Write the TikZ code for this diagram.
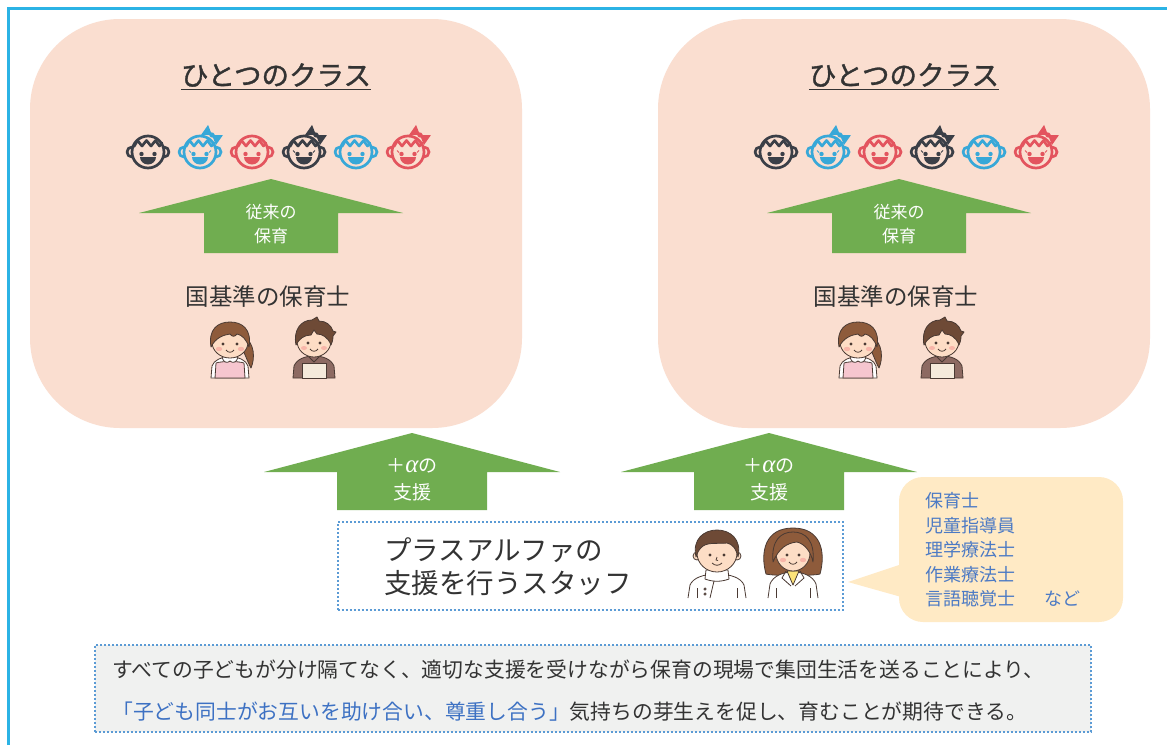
\documentclass[tikz,border=0pt]{standalone}
\usepackage{fontspec}
\setmainfont{Noto Sans CJK JP}
\newfontfamily\titlefont{Noto Sans CJK JP}[FakeBold=1.2]
\newfontfamily\alphafont{Liberation Serif}

\definecolor{framecol}{HTML}{2BB3E5}
\definecolor{classbg}{HTML}{FADED0}
\definecolor{arrowcol}{HTML}{70AD50}
\definecolor{dotcol}{HTML}{5B9BD5}
\definecolor{bubblecol}{HTML}{FFEAC5}
\definecolor{bubbletxt}{HTML}{4C7AC4}
\definecolor{txtdark}{HTML}{333333}
\definecolor{emphblue}{HTML}{3D71C3}
\definecolor{notebg}{HTML}{F0F1F0}
\definecolor{kiddark}{HTML}{3B3F47}
\definecolor{kidblue}{HTML}{38A8D8}
\definecolor{kidred}{HTML}{E3545E}
\definecolor{skin}{HTML}{FDDDC5}
\definecolor{hairA}{HTML}{8E5B3B}
\definecolor{hairB}{HTML}{6E4A36}
\definecolor{outline}{HTML}{4A3A33}
\definecolor{cheek}{HTML}{F7A9A0}
\definecolor{apronpink}{HTML}{F6C6CF}
\definecolor{shirtbrown}{HTML}{8D6A62}
\definecolor{apronbeige}{HTML}{F5EADB}
\definecolor{shirtyellow}{HTML}{FCE37A}

\newcommand{\setfs}[2]{\fontsize{#1}{#2}\selectfont}
\newcommand{\plusalpha}{＋{\alphafont\itshape\fontsize{25}{25}\selectfont α}の}

\tikzset{
  txt/.style={inner sep=0pt, text=txtdark},
  classbox/.style={fill=classbg, rounded corners=90pt, minimum width=492pt, minimum height=409pt, inner sep=0pt},
  dotbox/.style={draw=dotcol, line width=2pt, dash pattern=on 2pt off 2pt, inner sep=0pt},
  titletxt/.style={txt, font=\titlefont\setfs{27.5}{30}},
  teachtxt/.style={txt, font=\setfs{23.5}{26}},
  arrowtxt/.style={inner sep=0pt, text=white, align=center},
  kidline/.style={line width=2.7pt, line cap=round, line join=round},
  figline/.style={line width=0.8pt, draw=outline, line join=round},
  % child icon, boy
  boyface/.pic={
    \begin{scope}[kidline, draw=#1, fill=#1]
      \draw (0,0) circle[radius=16];
      \draw (-16,-5) arc[start angle=270, end angle=90, radius=5];
      \draw (16,-5) arc[start angle=-90, end angle=90, radius=5];
      \draw (-14,-5.5) -- (-10.5,-11.5) -- (-6,-6) -- (-1.5,-11.5) -- (3,-6) -- (7.5,-11.5) -- (11.5,-6) -- (14,-9);
      \fill (-6.5,2) circle[radius=2.2];
      \fill (6.5,2) circle[radius=2.2];
      \fill (-8,5) arc[start angle=180, end angle=0, x radius=8, y radius=7.5] -- cycle;
    \end{scope}
  },
  % child icon, girl with a bow
  girlface/.pic={
    \pic {boyface=#1};
    \begin{scope}[shift={(12,-17)}, rotate=-35]
      \fill[#1] (0,0) -- (-9,-6) -- (-9,6) -- cycle;
      \fill[#1] (0,0) -- (9,-6) -- (9,6) -- cycle;
      \fill[#1] (0,0) circle[radius=2.6];
    \end{scope}
    \draw[#1, line width=1pt] (-9,0.5) -- (-11,-1.5);
    \draw[#1, line width=1pt] (9,0.5) -- (11,-1.5);
  },
  % nursery teacher, woman
  teacherF/.pic={
    \begin{scope}[figline]
      \filldraw[fill=hairA] (14,-4) .. controls (25,2) and (25,18) .. (21,27) .. controls (17,20) and (15,12) .. (11,6) -- cycle;
      \filldraw[fill=white] (-19,37) -- (-18,25) .. controls (-16,19) and (-9,16) .. (0,16) .. controls (9,16) and (16,19) .. (18,25) -- (19,37) -- cycle;
      \filldraw[fill=apronpink] (-15,37) -- (-14,22) .. controls (-8,20) and (8,20) .. (14,22) -- (15,37) -- cycle;
      \filldraw[fill=white] (-8,16) .. controls (-7,21) and (-3,23) .. (0,20) .. controls (3,23) and (7,21) .. (8,16) -- cycle;
      \filldraw[fill=skin] (0,1) ellipse[x radius=18, y radius=16];
      \filldraw[fill=hairA] (-19,6) .. controls (-22,-12) and (-12,-19) .. (0,-19) .. controls (12,-19) and (22,-12) .. (19,6) .. controls (16,-2) and (12,-6) .. (7,-7) .. controls (5,-4) and (2,-4) .. (0,-7) .. controls (-6,-6) and (-14,-4) .. (-19,6) -- cycle;
      \fill[cheek, opacity=.75] (-11,8) ellipse[x radius=3.2, y radius=2.2];
      \fill[cheek, opacity=.75] (11,8) ellipse[x radius=3.2, y radius=2.2];
      \fill[outline] (-7,3) circle[radius=1.7];
      \fill[outline] (7,3) circle[radius=1.7];
      \draw (-4,9) .. controls (-2,12) and (2,12) .. (4,9);
    \end{scope}
  },
  % nursery teacher, man
  teacherM/.pic={
    \begin{scope}[figline]
      \filldraw[fill=shirtbrown] (-21,38) -- (-20,26) .. controls (-17,19) and (-9,16) .. (0,16) .. controls (9,16) and (17,19) .. (20,26) -- (21,38) -- cycle;
      \filldraw[fill=apronbeige] (-12,38) -- (-12,23) -- (12,23) -- (12,38) -- cycle;
      \draw (-6,16) -- (0,22) -- (6,16);
      \filldraw[fill=skin] (0,1) ellipse[x radius=17, y radius=16];
      \filldraw[fill=hairB] (-18,5) .. controls (-21,-10) and (-13,-20) .. (-2,-20) -- (3,-23) -- (5,-19) .. controls (12,-19) and (17,-15) .. (19,-9) -- (22,-8) -- (19,-4) .. controls (19,0) and (18,3) .. (17,5) .. controls (14,-3) and (8,-6) .. (3,-6) -- (0,-10) -- (-3,-5) .. controls (-10,-5) and (-15,-1) .. (-18,5) -- cycle;
      \fill[cheek, opacity=.75] (-10,8) ellipse[x radius=3, y radius=2];
      \fill[cheek, opacity=.75] (10,8) ellipse[x radius=3, y radius=2];
      \fill[outline] (-6,3) circle[radius=1.6];
      \fill[outline] (6,3) circle[radius=1.6];
      \draw (-4,9) .. controls (-2,12) and (2,12) .. (4,9);
    \end{scope}
  },
  % support staff, man in white coat
  staffM/.pic={
    \begin{scope}[figline]
      \fill[white] (-29,45) -- (-27,32) .. controls (-24,25) and (-14,21) .. (0,21) .. controls (14,21) and (24,25) .. (27,32) -- (29,45) -- cycle;
      \draw (-29,45) -- (-27,32) .. controls (-24,25) and (-14,21) .. (0,21) .. controls (14,21) and (24,25) .. (27,32) -- (29,45);
      \draw (-20,45) -- (-20,35);
      \draw (20,45) -- (20,35);
      \filldraw[fill=white] (-11,17) -- (-12,26) .. controls (-4,29) and (4,29) .. (12,26) -- (11,17) -- cycle;
      \draw (-3,28) -- (-7,45);
      \draw (-12,36) circle[radius=1.2];
      \draw (-12,41) circle[radius=1.2];
      \filldraw[fill=skin] (-20,3) circle[radius=4];
      \filldraw[fill=skin] (20,3) circle[radius=4];
      \filldraw[fill=skin] (0,0) ellipse[x radius=20, y radius=19];
      \filldraw[fill=hairB] (-21,4) .. controls (-25,-14) and (-13,-23) .. (0,-23) .. controls (13,-23) and (25,-14) .. (21,4) .. controls (19,-5) and (15,-9) .. (10,-10) .. controls (2,-9) and (-8,-11) .. (-14,-7) .. controls (-18,-4) and (-20,0) .. (-21,4) -- cycle;
      \fill[outline] (-7,2) circle[radius=1.7];
      \fill[outline] (7,2) circle[radius=1.7];
      \draw (0,4) -- (-1,7) -- (1,7.5);
      \draw (-5,10) .. controls (-2,13) and (2,13) .. (5,10);
    \end{scope}
  },
  % support staff, woman in white coat
  staffF/.pic={
    \begin{scope}[figline]
      \filldraw[fill=hairA] (-27,22) .. controls (-33,0) and (-28,-24) .. (0,-24) .. controls (28,-24) and (33,0) .. (27,22) .. controls (20,24) and (-20,24) .. (-27,22) -- cycle;
      \fill[white] (-25,46) -- (-23,32) .. controls (-20,24) and (-10,20) .. (0,20) .. controls (10,20) and (20,24) .. (23,32) -- (25,46) -- cycle;
      \draw (-25,46) -- (-23,32) .. controls (-20,24) and (-10,20) .. (0,20) .. controls (10,20) and (20,24) .. (23,32) -- (25,46);
      \filldraw[fill=shirtyellow] (-6,19) -- (0,33) -- (6,19) -- cycle;
      \draw (-7,19) -- (-11,26) -- (-2,34);
      \draw (7,19) -- (11,26) -- (2,34);
      \draw (-17,46) -- (-17,36);
      \draw (17,46) -- (17,36);
      \filldraw[fill=skin] (0,1) ellipse[x radius=17, y radius=18];
      \filldraw[fill=hairA] (-20,10) .. controls (-22,-12) and (-12,-20) .. (0,-20) .. controls (12,-20) and (22,-12) .. (20,10) .. controls (18,0) and (12,-8) .. (4,-10) .. controls (-6,-9) and (-14,-4) .. (-20,10) -- cycle;
      \fill[cheek, opacity=.75] (-10,8) ellipse[x radius=3.2, y radius=2.2];
      \fill[cheek, opacity=.75] (10,8) ellipse[x radius=3.2, y radius=2.2];
      \fill[outline] (-6,3) circle[radius=1.6];
      \fill[outline] (6,3) circle[radius=1.6];
      \draw (-4,10) .. controls (-2,13) and (2,13) .. (4,10);
    \end{scope}
  },
  % broad green arrows
  careArrow/.pic={
    \fill[arrowcol] (0,0) -- (132,34) -- (67,34) -- (67,74) -- (-67,74) -- (-67,34) -- (-132,34) -- cycle;
  },
  plusArrow/.pic={
    \fill[arrowcol] (0,0) -- (148,39) -- (75,39) -- (75,77) -- (-75,77) -- (-75,39) -- (-148,39) -- cycle;
  },
}

\begin{document}
\begin{tikzpicture}[x=1pt, y=-1pt]
\useasboundingbox (0,0) rectangle (1167,745);
\fill[white] (0,0) rectangle (1167,745);

% outer frame (top and left edges)
\draw[framecol, line width=3pt] (8.5,745) -- (8.5,8.5) -- (1167,8.5);

% the two classes
\node[classbox] (classL) at (276,223.5) {};
\node[classbox] (classR) at (904,223.5) {};

\node[titletxt] (titleL) at (276,75) {ひとつのクラス};
\node[titletxt] (titleR) at (904,75) {ひとつのクラス};
\draw[txtdark, line width=1.5pt] ([yshift=-4pt]titleL.base west) -- ([yshift=-4pt]titleL.base east);
\draw[txtdark, line width=1.5pt] ([yshift=-4pt]titleR.base west) -- ([yshift=-4pt]titleR.base east);

% children
\foreach \dx in {0,628} {
  \pic at ({148+\dx},152) {boyface=kiddark};
  \pic at ({200+\dx},152) {girlface=kidblue};
  \pic at ({252+\dx},152) {boyface=kidred};
  \pic at ({304+\dx},152) {girlface=kiddark};
  \pic at ({356+\dx},152) {boyface=kidblue};
  \pic at ({408+\dx},152) {girlface=kidred};
}

% usual care arrows
\pic at (271,179) {careArrow};
\pic at (899,179) {careArrow};
\node[arrowtxt, font=\setfs{17}{24}] (careL) at (271,224) {従来の\\保育};
\node[arrowtxt, font=\setfs{17}{24}] (careR) at (899,224) {従来の\\保育};

% nursery teachers
\node[teachtxt] (teachL) at (268,297) {国基準の保育士};
\node[teachtxt] (teachR) at (896,297) {国基準の保育士};
\pic at (230,341) {teacherF};
\pic at (314,340) {teacherM};
\pic at (858,341) {teacherF};
\pic at (942,340) {teacherM};

% plus-alpha support arrows
\pic at (412,433) {plusArrow};
\pic at (769,433) {plusArrow};
\node[arrowtxt, font=\setfs{19}{27}] (plusL) at (412,480) {\plusalpha\\支援};
\node[arrowtxt, font=\setfs{19}{27}] (plusR) at (769,480) {\plusalpha\\支援};

% support staff
\node[dotbox, fill=white, minimum width=505pt, minimum height=88pt] (staffbox) at (590,566) {};
\node[txt, anchor=west, align=left, font=\setfs{27.5}{33}] (stafftxt) at (384,567) {プラスアルファの\\支援を行うスタッフ};
\pic at (717,553) {staffM};
\pic at (793,552) {staffF};

% speech bubble with the staff roles
\fill[bubblecol, rounded corners=24pt] (899,477) rectangle (1123,622);
\fill[bubblecol] (905,563) -- (848,582) -- (905,598) -- cycle;
\node[inner sep=0pt, anchor=west, align=left, text=bubbletxt, font=\setfs{18}{24.5}] (roles) at (925,550)
  {保育士\\児童指導員\\理学療法士\\作業療法士\\言語聴覚士\hspace{29pt}など};

% summary note
\node[dotbox, fill=notebg, minimum width=996pt, minimum height=87pt] (note) at (593,688.5) {};
\node[txt, anchor=west, font=\setfs{20.8}{25}, text=txtdark] (noteA) at (112,670)
  {すべての子どもが分け隔てなく、適切な支援を受けながら保育の現場で集団生活を送ることにより、};
\node[txt, anchor=west, font=\setfs{20.8}{25}, text=txtdark] (noteB) at (112,712)
  {\textcolor{emphblue}{「子ども同士がお互いを助け合い、尊重し合う」}気持ちの芽生えを促し、育むことが期待できる。};
\end{tikzpicture}
\end{document}
